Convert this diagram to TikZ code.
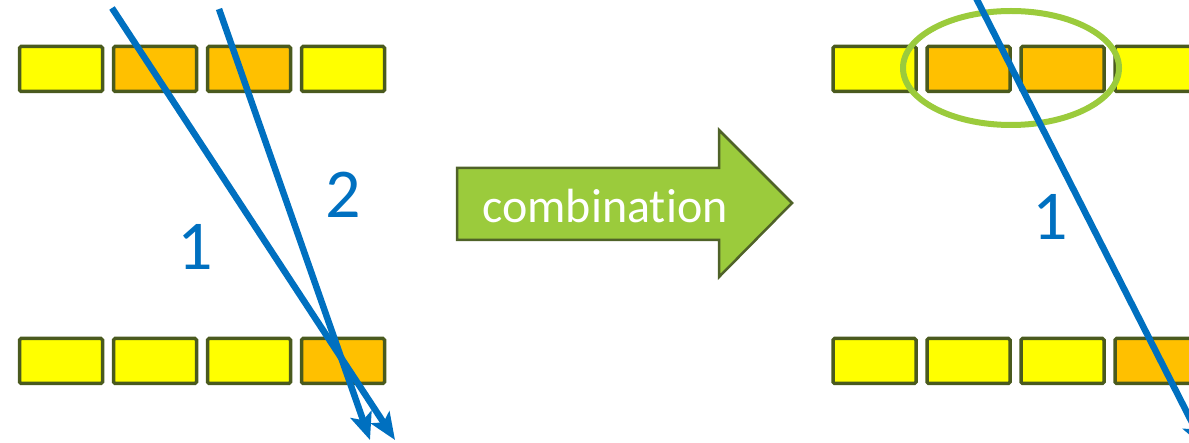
\documentclass[tikz,border=0pt]{standalone}
\usepackage{fontspec}
\setmainfont{Carlito}
\newfontfamily\plainlabel{Carlito}[Ligatures=NoCommon]
\usetikzlibrary{arrows.meta}
\definecolor{cellyellow}{HTML}{FFFF00}
\definecolor{cellorange}{HTML}{FFC000}
\definecolor{cellborder}{HTML}{4A5A1E}
\definecolor{rayblue}{HTML}{0070C0}
\definecolor{leafgreen}{HTML}{9BCB3C}
\definecolor{leafdark}{HTML}{4F6228}
\tikzset{
  cell/.style={draw=cellborder, line width=3.5pt, rounded corners=1.5pt,
    minimum width=83pt, minimum height=45pt, inner sep=0pt},
  hit/.style={cell, fill=cellorange},
  miss/.style={cell, fill=cellyellow},
  ray/.style={draw=rayblue, line width=6.5pt,
    -{Stealth[length=27pt,width=22pt,inset=6pt]}},
  raynum/.style={text=rayblue, font=\fontsize{70}{70}\selectfont},
}
\begin{document}
\begin{tikzpicture}[x=1pt,y=-1pt]
\useasboundingbox (0,0) rectangle (1189,443);
\clip (0,0) rectangle (1189,443);

% left detector: two layers of four cells
\node[miss] (lt1) at (61,69) {};
\node[hit]  (lt2) at (155,69) {};
\node[hit]  (lt3) at (249,69) {};
\node[miss] (lt4) at (343,69) {};
\node[miss] (lb1) at (61,361) {};
\node[miss] (lb2) at (155,361) {};
\node[miss] (lb3) at (249,361) {};
\node[hit]  (lb4) at (343,361) {};

% two track candidates
\coordinate (s1) at (112,8);
\coordinate (e1) at (395,440);
\coordinate (s2) at (219,9);
\coordinate (e2) at (370,440);
\draw[ray] (s1) -- (e1);
\draw[ray] (s2) -- (e2);
\node[raynum] (n1) at (195,247) {1};
\node[raynum] (n2) at (343,195) {2};

% combination arrow
\draw[fill=leafgreen, draw=leafdark, line width=2.5pt, line join=miter]
  (457,168) -- (719,168) -- (719,130) -- (792,203) -- (719,277)
  -- (719,240) -- (457,240) -- cycle;
\node[text=white, font=\plainlabel\fontsize{48}{48}\selectfont] (comb) at (605,206) {combination};

% right detector after merging the two cells
\node[miss] (rt1) at (874.5,69) {};
\node[hit]  (rt2) at (968.5,69) {};
\node[hit]  (rt3) at (1062.5,69) {};
\node[miss] (rt4) at (1156.5,69) {};
\node[miss] (rb1) at (874.5,361) {};
\node[miss] (rb2) at (968.5,361) {};
\node[miss] (rb3) at (1062.5,361) {};
\node[hit]  (rb4) at (1156.5,361) {};

\draw[leafgreen, line width=6pt] (1011,68) ellipse [x radius=108pt, y radius=57pt];

\coordinate (s3) at (972,-10);
\coordinate (e3) at (1205,448);
\draw[ray] (s3) -- (e3);
\node[raynum] (n3) at (1050,217) {1};
\end{tikzpicture}
\end{document}
